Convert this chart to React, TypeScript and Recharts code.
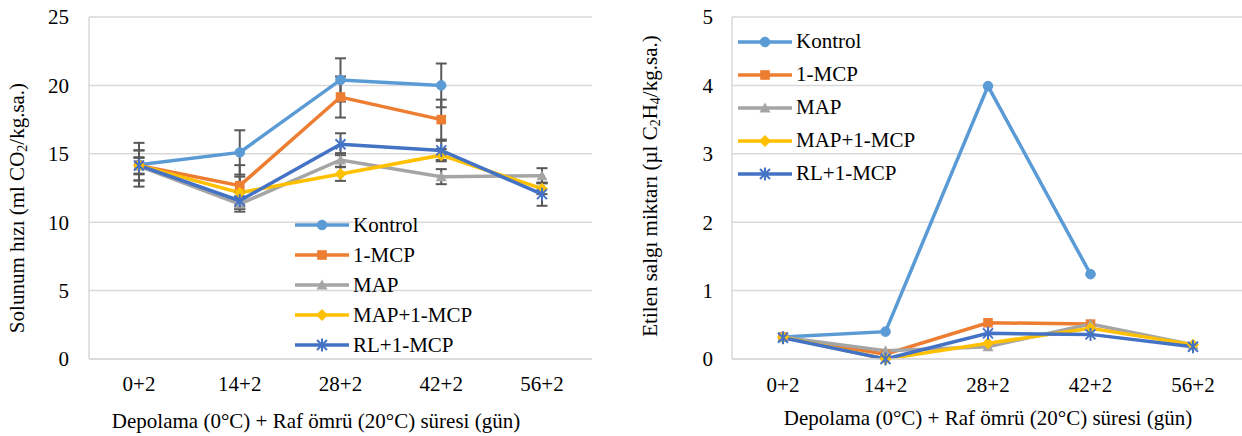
import React from 'react';
import { LineChart, Line, XAxis, YAxis, CartesianGrid, ErrorBar } from 'recharts';

const categories = ['0+2', '14+2', '28+2', '42+2', '56+2'];
const seriesNames = ['Kontrol', '1-MCP', 'MAP', 'MAP+1-MCP', 'RL+1-MCP'];
const seriesColors = ['#5B9BD5', '#ED7D31', '#A5A5A5', '#FFC000', '#4472C4'];
const seriesShapes = ['circle', 'square', 'triangle', 'diamond', 'star'];

// Respiration rate (ml CO2/kg.h)
const resKontrol = [14.2, 15.1, 20.4, 20.0, null];
const res1MCP = [14.15, 12.67, 19.15, 17.5, null];
const resMAP = [14.1, 11.33, 14.55, 13.33, 13.4];
const resMAP1MCP = [14.15, 12.16, 13.52, 14.9, 12.45];
const resRL1MCP = [14.15, 11.57, 15.7, 15.25, 12.05];

// Respiration standard errors
const errKontrol = [1.6, 1.62, 1.58, 1.6, null];
const err1MCP = [0.6, 1.5, 1.5, 1.46, null];
const errMAP = [0.6, 0.56, 0.5, 0.55, 0.55];
const errMAP1MCP = [1.1, 1.17, 0.5, 0.45, 0.4];
const errRL1MCP = [1.1, 0.6, 0.8, 0.7, 0.85];

// Ethylene (µl C2H4/kg.h)
const ethKontrol = [0.32, 0.4, 3.99, 1.24, null];
const eth1MCP = [0.32, 0.07, 0.53, 0.51, null];
const ethMAP = [0.32, 0.12, 0.18, 0.51, 0.21];
const ethMAP1MCP = [0.32, 0.0, 0.23, 0.45, 0.21];
const ethRL1MCP = [0.31, 0.0, 0.375, 0.36, 0.18];

const resTicks = [0, 5, 10, 15, 20, 25];
const ethTicks = [0, 1, 2, 3, 4, 5];

const resSeries = [resKontrol, res1MCP, resMAP, resMAP1MCP, resRL1MCP];
const errSeries = [errKontrol, err1MCP, errMAP, errMAP1MCP, errRL1MCP];
const ethSeries = [ethKontrol, eth1MCP, ethMAP, ethMAP1MCP, ethRL1MCP];

const resData = categories.map((c, i) => {
  const row: any = { cat: c };
  seriesNames.forEach((n, s) => {
    row['v' + s] = resSeries[s][i];
    row['e' + s] = errSeries[s][i];
  });
  return row;
});

const ethData = categories.map((c, i) => {
  const row: any = { cat: c };
  seriesNames.forEach((n, s) => {
    row['v' + s] = ethSeries[s][i];
  });
  return row;
});

const FONT = '"Liberation Serif", "Times New Roman", Times, "DejaVu Serif", serif';
const GRID = '#d9d9d9';

function Marker({ shape, color, cx, cy }: any) {
  switch (shape) {
    case 'circle':
      return <circle cx={cx} cy={cy} r={4.8} fill={color} stroke={color} />;
    case 'square':
      return <rect x={cx - 4.8} y={cy - 4.8} width={9.6} height={9.6} fill={color} />;
    case 'triangle':
      return <polygon points={`${cx},${cy - 5.5} ${cx + 5.5},${cy + 4.5} ${cx - 5.5},${cy + 4.5}`} fill={color} />;
    case 'diamond':
      return <polygon points={`${cx},${cy - 6} ${cx + 6},${cy} ${cx},${cy + 6} ${cx - 6},${cy}`} fill={color} />;
    case 'star':
      return (
        <g stroke={color} strokeWidth={2}>
          <line x1={cx - 5} y1={cy - 5} x2={cx + 5} y2={cy + 5} />
          <line x1={cx - 5} y1={cy + 5} x2={cx + 5} y2={cy - 5} />
          <line x1={cx} y1={cy - 6.5} x2={cx} y2={cy + 6.5} />
        </g>
      );
    default:
      return null;
  }
}

function makeDot(s: number) {
  return (p: any) => {
    if (p.cx == null || p.cy == null || p.value == null) return <g key={p.key} />;
    return (
      <g key={p.key}>
        <Marker shape={seriesShapes[s]} color={seriesColors[s]} cx={p.cx} cy={p.cy} />
      </g>
    );
  };
}

function LegendBox({ rowH, left, top }: { rowH: number; left: number; top: number }) {
  return (
    <div style={{ position: 'absolute', left, top, fontFamily: FONT, fontSize: 21, color: '#000' }}>
      {seriesNames.map((n, s) => (
        <div key={n} style={{ height: rowH, display: 'flex', alignItems: 'center', whiteSpace: 'nowrap' }}>
          <svg width={54} height={16} style={{ display: 'block' }}>
            <line x1={0} y1={8} x2={54} y2={8} stroke={seriesColors[s]} strokeWidth={3.5} />
            <Marker shape={seriesShapes[s]} color={seriesColors[s]} cx={27} cy={8} />
          </svg>
          <span style={{ marginLeft: 4, lineHeight: 1 }}>{n}</span>
        </div>
      ))}
    </div>
  );
}

function YTitle({ x, y, parts }: any) {
  return (
    <text
      x={x}
      y={y}
      transform={`rotate(-90 ${x} ${y})`}
      textAnchor="middle"
      dominantBaseline="central"
      fontFamily={FONT}
      fontSize={21}
      fill="#000"
    >
      {parts.map((p: any, i: number) =>
        p.sub ? (
          <tspan key={i} fontSize={14} dy={5}>{p.t}</tspan>
        ) : (
          <tspan key={i} dy={i > 0 && parts[i - 1].sub ? -5 : 0}>{p.t}</tspan>
        )
      )}
    </text>
  );
}

const xTitle = 'Depolama (0°C) + Raf ömrü (20°C) süresi (gün)';

export default function App() {
  const tickStyle = { fontFamily: FONT, fontSize: 21, fill: '#000' };
  return (
    <div style={{ position: 'absolute', left: 0, top: 0, width: 1242, height: 436, overflow: 'hidden', background: '#fff' }}>
      <div style={{ position: 'absolute', left: 0, top: 0 }}>
        <LineChart width={620} height={436} data={resData} margin={{ top: 17, right: 28, bottom: 47, left: 0 }}>
          <CartesianGrid horizontal vertical={false} stroke={GRID} strokeWidth={1.5} />
          <XAxis
            dataKey="cat"
            height={30}
            padding={{ left: 50, right: 50 }}
            tick={tickStyle}
            tickLine={false}
            tickSize={0}
            tickMargin={17}
            axisLine={{ stroke: GRID, strokeWidth: 1.5 }}
            label={{ content: () => (
              <text x={316} y={421} textAnchor="middle" dominantBaseline="central" fontFamily={FONT} fontSize={21} fill="#000">{xTitle}</text>
            ) }}
          />
          <YAxis
            width={89}
            domain={[0, 25]}
            ticks={resTicks}
            tick={tickStyle}
            tickLine={false}
            tickSize={0}
            tickMargin={20}
            axisLine={{ stroke: GRID, strokeWidth: 1.5 }}
            label={{ content: () => (
              <YTitle x={17} y={208} parts={[{ t: 'Solunum hızı (ml CO' }, { t: '2', sub: true }, { t: '/kg.sa.)' }]} />
            ) }}
          />
          <YAxis yAxisId="r" orientation="right" width={0} tick={false} tickLine={false} axisLine={{ stroke: GRID, strokeWidth: 1.5 }} domain={[0, 25]} />
          {seriesNames.map((n, s) => (
            <Line
              key={n}
              name={n}
              dataKey={'v' + s}
              stroke={seriesColors[s]}
              strokeWidth={3.5}
              dot={makeDot(s)}
              activeDot={false}
              isAnimationActive={false}
            >
              <ErrorBar dataKey={'e' + s} width={5.5} strokeWidth={2} stroke="#595959" direction="y" isAnimationActive={false} />
            </Line>
          ))}
        </LineChart>
        <LegendBox rowH={30} left={295} top={210} />
      </div>
      <div style={{ position: 'absolute', left: 620, top: 0 }}>
        <LineChart width={640} height={436} data={ethData} margin={{ top: 17, right: 16, bottom: 47, left: 0 }}>
          <CartesianGrid horizontal vertical={false} stroke={GRID} strokeWidth={1.5} />
          <XAxis
            dataKey="cat"
            height={30}
            padding={{ left: 51, right: 51 }}
            tick={tickStyle}
            tickLine={false}
            tickSize={0}
            tickMargin={18}
            axisLine={{ stroke: GRID, strokeWidth: 1.5 }}
            label={{ content: () => (
              <text x={368} y={418} textAnchor="middle" dominantBaseline="central" fontFamily={FONT} fontSize={21} fill="#000">{xTitle}</text>
            ) }}
          />
          <YAxis
            width={112}
            domain={[0, 5]}
            ticks={ethTicks}
            tick={tickStyle}
            tickLine={false}
            tickSize={0}
            tickMargin={19}
            axisLine={{ stroke: GRID, strokeWidth: 1.5 }}
            label={{ content: () => (
              <YTitle x={30} y={186} parts={[{ t: 'Etilen salgı miktarı (µl C' }, { t: '2', sub: true }, { t: 'H' }, { t: '4', sub: true }, { t: '/kg.sa.)' }]} />
            ) }}
          />
          {seriesNames.map((n, s) => (
            <Line
              key={n}
              name={n}
              dataKey={'v' + s}
              stroke={seriesColors[s]}
              strokeWidth={3.5}
              dot={makeDot(s)}
              activeDot={false}
              isAnimationActive={false}
            />
          ))}
        </LineChart>
        <LegendBox rowH={33} left={118} top={25} />
      </div>
    </div>
  );
}
